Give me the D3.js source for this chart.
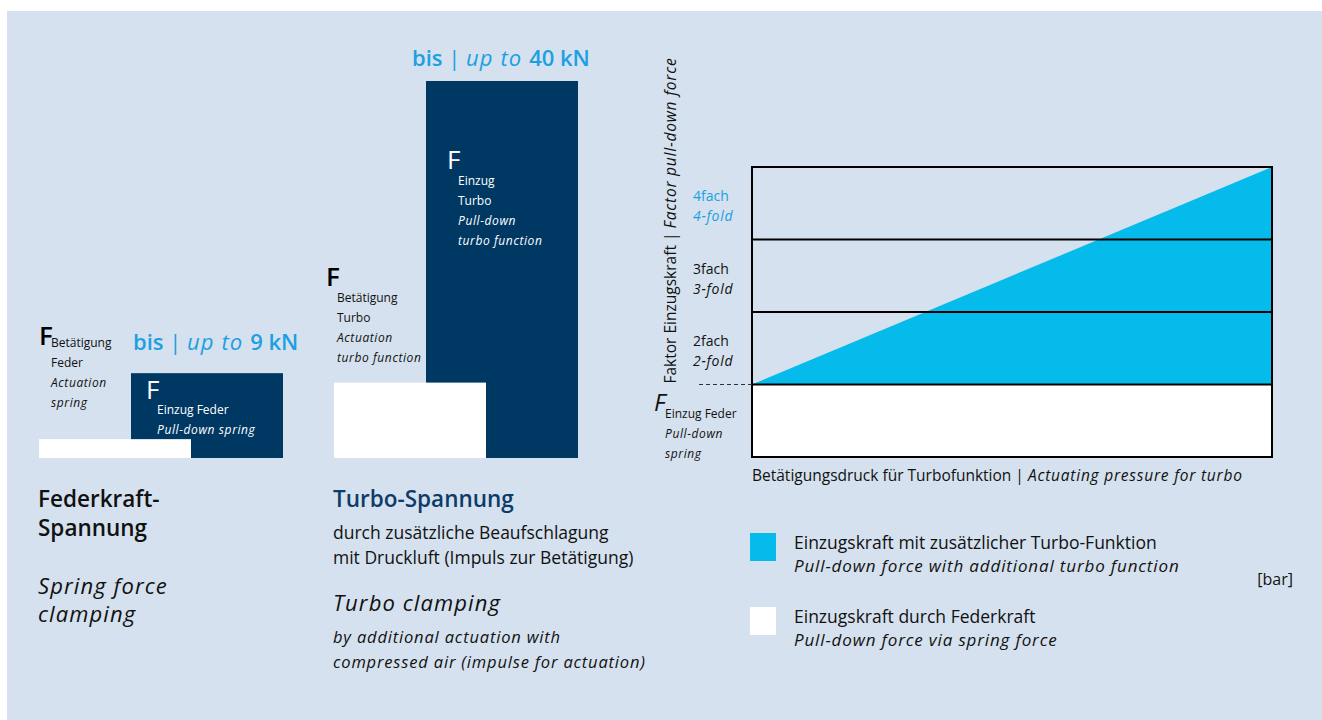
<!DOCTYPE html>
<html>
<head>
<meta charset="utf-8">
<script src="https://cdn.jsdelivr.net/npm/d3@7"></script>
<style>
  body { margin: 0; background: #fff; }
  svg { display: block; font-family: "Open Sans", "Noto Sans", sans-serif; }
  .it { font-style: italic; letter-spacing: 0.05em; }
</style>
</head>
<body>
<div id="chart"></div>
<script>
// clamping types and forces in kN
const groups = ["Feder", "Turbo"];
const actuationForce = [2, 8];
const pullDownForce = [9, 40];
const maxLabels = ["9 kN", "40 kN"];

// factor diagram
const factorLevels = [2, 3, 4];
const factorDe = ["2fach", "3fach", "4fach"];
const factorEn = ["2-fold", "3-fold", "4-fold"];
const pressure = [0, 1];
const turboFactor = [1, 4];

const W = 1322, H = 720;
const navy = "#003864", cyan = "#05bbeb", blueText = "#1ba0e2", bg = "#d5e1ee";

const svg = d3.select("#chart").append("svg")
  .attr("width", W).attr("height", H);

svg.append("rect")
  .attr("x", 7).attr("y", 11)
  .attr("width", W - 7).attr("height", H - 11)
  .attr("fill", bg);

// ---------- bars ----------
const gx = d3.scaleBand().domain(groups).range([39, 629]);
const fy = d3.scaleLinear().domain([0, 40]).range([458, 81]);
const barW = 152, darkOffset = 92;

const bars = groups.map((g, i) => ({ g, act: actuationForce[i], pull: pullDownForce[i], max: maxLabels[i] }));

svg.selectAll("rect.pull")
  .data(bars)
  .join("rect")
    .attr("class", "pull")
    .attr("x", d => gx(d.g) + darkOffset)
    .attr("y", d => fy(d.pull))
    .attr("width", barW)
    .attr("height", d => fy(0) - fy(d.pull))
    .attr("fill", navy);

svg.selectAll("rect.act")
  .data(bars)
  .join("rect")
    .attr("class", "act")
    .attr("x", d => gx(d.g))
    .attr("y", d => fy(d.act))
    .attr("width", barW)
    .attr("height", d => fy(0) - fy(d.act))
    .attr("fill", "#fff");

// "bis | up to N kN" labels
bars.forEach((d, i) => {
  const t = svg.append("text")
    .attr("x", gx(d.g) + darkOffset + (i === 0 ? 2 : -14))
    .attr("y", i === 0 ? fy(d.pull) - 23 : fy(d.pull) - 15)
    .attr("fill", blueText)
    .style("font-size", "22px");
  t.append("tspan").style("font-weight", 600).text("bis ");
  t.append("tspan").style("font-weight", 400).text("| ");
  t.append("tspan").attr("class", "it").text("up to ");
  t.append("tspan").style("font-weight", 600).text(d.max);
});

function block(x, y, lines, color, step) {
  const t = svg.append("text").attr("fill", color).style("font-size", "12px");
  lines.forEach((l, k) => {
    t.append("tspan")
      .attr("x", x).attr("y", y + k * step)
      .attr("class", l.it ? "it" : null)
      .text(l.s);
  });
}
function bigF(x, y, color, weight, italic) {
  svg.append("text").attr("x", x).attr("y", y)
    .attr("fill", color)
    .style("font-size", "26px").style("font-weight", weight)
    .style("font-style", italic ? "italic" : "normal")
    .text("F");
}

// left group labels
bigF(39, 345, "#000", 600);
block(51, 347, [{ s: "Betätigung" }, { s: "Feder" }, { s: "Actuation", it: 1 }, { s: "spring", it: 1 }], "#111", 20);
bigF(146, 399, "#fff", 500);
block(157, 414, [{ s: "Einzug Feder" }, { s: "Pull-down spring", it: 1 }], "#fff", 20);

// middle group labels
bigF(447, 169, "#fff", 500);
block(458, 185, [{ s: "Einzug" }, { s: "Turbo" }, { s: "Pull-down", it: 1 }, { s: "turbo function", it: 1 }], "#fff", 20);
bigF(326, 286, "#000", 600);
block(337, 302, [{ s: "Betätigung" }, { s: "Turbo" }, { s: "Actuation", it: 1 }, { s: "turbo function", it: 1 }], "#111", 20);

// captions below
function caption(x, lines) {
  const t = svg.append("text");
  lines.forEach(l => {
    t.append("tspan")
      .attr("x", x).attr("y", l.y)
      .attr("fill", l.c || "#111")
      .attr("class", l.it ? "it" : null)
      .style("font-size", l.fs + "px")
      .style("font-weight", l.w || 400)
      .text(l.s);
  });
}
caption(38, [
  { s: "Federkraft-", y: 507, fs: 22.5, w: 600 },
  { s: "Spannung", y: 536, fs: 22.5, w: 600 },
  { s: "Spring force", y: 594, fs: 22, it: 1 },
  { s: "clamping", y: 622, fs: 22, it: 1 }
]);
caption(333, [
  { s: "Turbo-Spannung", y: 507, fs: 22.5, w: 600, c: "#0d3c6a" },
  { s: "durch zusätzliche Beaufschlagung", y: 539, fs: 17.5 },
  { s: "mit Druckluft (Impuls zur Betätigung)", y: 564, fs: 17.5 },
  { s: "Turbo clamping", y: 611, fs: 22, it: 1 },
  { s: "by additional actuation with", y: 643, fs: 16.5, it: 1 },
  { s: "compressed air (impulse for actuation)", y: 668, fs: 16.5, it: 1 }
]);

// ---------- factor diagram ----------
const px = d3.scaleLinear().domain([0, 1]).range([752, 1272]);
const py = d3.scaleLinear().domain([0, 4]).range([457, 167]);

svg.append("rect")
  .attr("x", px(0)).attr("y", py(1))
  .attr("width", px(1) - px(0)).attr("height", py(0) - py(1))
  .attr("fill", "#fff");

const area = d3.area()
  .x(d => px(d[0]))
  .y0(py(1))
  .y1(d => py(d[1]));
svg.append("path")
  .datum(pressure.map((p, i) => [p, turboFactor[i]]))
  .attr("d", area)
  .attr("fill", cyan);

// horizontal lines at each factor
svg.selectAll("line.lvl")
  .data([1, ...factorLevels])
  .join("line")
    .attr("class", "lvl")
    .attr("x1", px(0)).attr("x2", px(1))
    .attr("y1", d => py(d)).attr("y2", d => py(d))
    .attr("stroke", "#000").attr("stroke-width", 2);

svg.append("rect")
  .attr("x", px(0)).attr("y", py(4))
  .attr("width", px(1) - px(0)).attr("height", py(0) - py(4))
  .attr("fill", "none").attr("stroke", "#000").attr("stroke-width", 2);

svg.append("line")
  .attr("x1", 699).attr("x2", px(0))
  .attr("y1", py(1)).attr("y2", py(1))
  .attr("stroke", "#333").attr("stroke-width", 1.2)
  .attr("stroke-dasharray", "4,3");

// factor labels
factorLevels.forEach((f, i) => {
  const c = f === 4 ? blueText : "#111";
  const ym = py(f - 0.5);
  svg.append("text").attr("x", 693).attr("y", ym - 2)
    .attr("fill", c).style("font-size", "14px").text(factorDe[i]);
  svg.append("text").attr("x", 693).attr("y", ym + 18)
    .attr("fill", c).attr("class", "it").style("font-size", "14px").text(factorEn[i]);
});

// y axis title
const yt = svg.append("text")
  .attr("transform", `translate(676, ${py(1) - 1}) rotate(-90)`)
  .attr("fill", "#111").style("font-size", "15.5px");
yt.append("tspan").text("Faktor Einzugskraft | ");
yt.append("tspan").attr("class", "it").text("Factor pull-down force");

// F Einzug Feder
svg.append("text").attr("x", 654).attr("y", 411)
  .attr("fill", "#111").style("font-size", "24px").style("font-style", "italic").text("F");
block(665, 418, [{ s: "Einzug Feder" }, { s: "Pull-down", it: 1 }, { s: "spring", it: 1 }], "#111", 20);

// x axis title
const xt = svg.append("text").attr("x", 752).attr("y", 481)
  .attr("fill", "#111").style("font-size", "15.5px");
xt.append("tspan").text("Betätigungsdruck für Turbofunktion | ");
xt.append("tspan").attr("class", "it").text("Actuating pressure for turbo");

svg.append("text").attr("x", 1293).attr("y", 585)
  .attr("text-anchor", "end")
  .attr("fill", "#111").style("font-size", "16px").text("[bar]");

// legend
const legend = [
  { c: cyan, de: "Einzugskraft mit zusätzlicher Turbo-Funktion", en: "Pull-down force with additional turbo function" },
  { c: "#fff", de: "Einzugskraft durch Federkraft", en: "Pull-down force via spring force" }
];
legend.forEach((d, i) => {
  const y0 = 533 + i * 74;
  svg.append("rect").attr("x", 750).attr("y", y0)
    .attr("width", 26).attr("height", 28).attr("fill", d.c);
  svg.append("text").attr("x", 794).attr("y", y0 + 16)
    .attr("fill", "#111").style("font-size", "17.5px").text(d.de);
  svg.append("text").attr("x", 794).attr("y", y0 + 39)
    .attr("fill", "#111").attr("class", "it").style("font-size", "17px").text(d.en);
});
</script>
</body>
</html>
